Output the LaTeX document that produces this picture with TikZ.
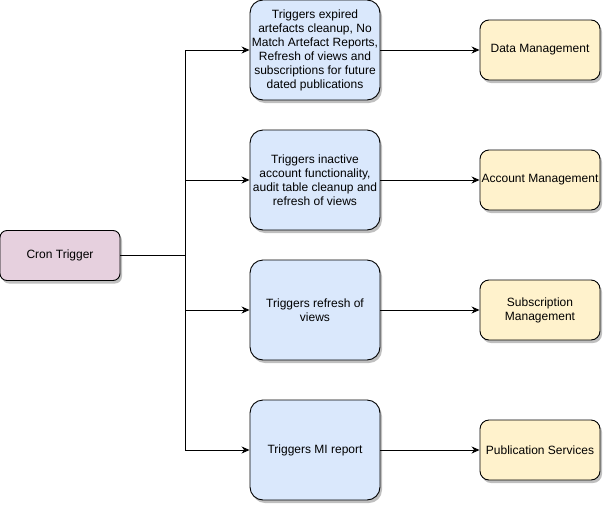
\documentclass[tikz,border=0pt]{standalone}
\usepackage{fontspec}
\setmainfont{Liberation Sans}
\usetikzlibrary{arrows.meta,shadows,positioning}
\definecolor{bluefill}{HTML}{DAE8FC}
\definecolor{yellowfill}{HTML}{FFF2CC}
\definecolor{pinkfill}{HTML}{E6D0DE}
\tikzset{
  box/.style={draw=black, line width=0.9pt, align=center, inner sep=0pt,
    font=\fontsize{12}{14}\selectfont,
    drop shadow={shadow xshift=2pt, shadow yshift=-3pt, opacity=0.25, fill=black}},
  trig/.style={box, fill=bluefill, minimum width=130pt, minimum height=100pt, rounded corners=13pt},
  svc/.style={box, fill=yellowfill, minimum width=120pt, minimum height=60pt, rounded corners=9pt},
  cron/.style={box, fill=pinkfill, minimum width=120pt, minimum height=50pt, rounded corners=7pt},
  conn/.style={draw=black, line width=0.9pt, -{Stealth[length=8pt,width=7pt]}},
  wire/.style={draw=black, line width=0.9pt}
}
\begin{document}
\begin{tikzpicture}[x=1pt,y=-1pt]
\useasboundingbox (0,0) rectangle (603,504);
\node[cron] (cron) at (60,255.5) {Cron Trigger};
\node[trig] (t1) at (315,50) {Triggers expired\\artefacts cleanup, No\\Match Artefact Reports,\\Refresh of views and\\subscriptions for future\\dated publications};
\node[trig] (t2) at (315,180) {Triggers inactive\\account functionality,\\audit table cleanup and\\refresh of views};
\node[trig] (t3) at (315,310) {Triggers refresh of\\views};
\node[trig] (t4) at (315,450) {Triggers MI report};
\node[svc] (s1) at (540,50) {Data Management};
\node[svc] (s2) at (540,180) {Account Management};
\node[svc] (s3) at (540,310) {Subscription\\Management};
\node[svc] (s4) at (540,450) {Publication Services};
\coordinate (j) at (185,255.5);
\coordinate (j1) at (185,50);
\coordinate (j4) at (185,450);
\draw[wire] (cron.east) -- (j);
\draw[wire] (j1) -- (j4);
\draw[conn] (j1) -- (t1.west);
\draw[conn] (j1 |- t2.west) -- (t2.west);
\draw[conn] (j1 |- t3.west) -- (t3.west);
\draw[conn] (j4) -- (t4.west);
\draw[conn] (t1.east) -- (s1.west);
\draw[conn] (t2.east) -- (s2.west);
\draw[conn] (t3.east) -- (s3.west);
\draw[conn] (t4.east) -- (s4.west);
\end{tikzpicture}
\end{document}
